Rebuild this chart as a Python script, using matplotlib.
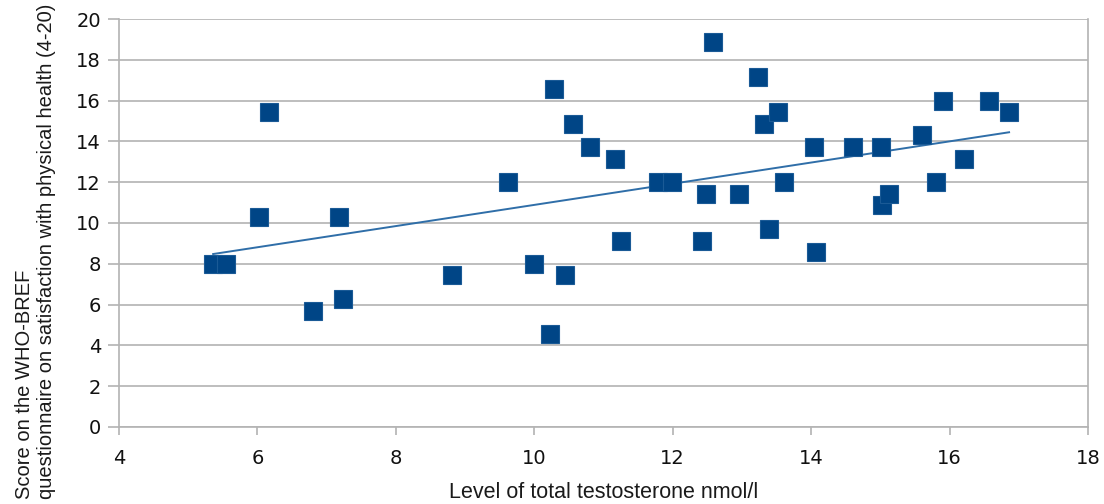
import numpy as np
import matplotlib
matplotlib.use("Agg")
import matplotlib.pyplot as plt

plt.rcParams['font.family'] = ['Liberation Sans', 'DejaVu Sans']

# testosterone level (nmol/l) and WHO-BREF physical health score
testosterone = [5.36, 5.55, 6.02, 6.17, 6.80, 7.18, 7.24, 8.81, 9.62, 9.99,
                10.23, 10.29, 10.45, 10.56, 10.81, 11.17, 11.25, 11.79, 11.99, 12.42,
                12.48, 12.58, 12.96, 13.23, 13.32, 13.52, 13.39, 13.61, 14.04, 14.07,
                14.61, 15.01, 15.03, 15.13, 15.60, 15.81, 15.91, 16.21, 16.57, 16.86]
score = [8.00, 8.00, 10.29, 15.43, 5.71, 10.29, 6.29, 7.43, 12.00, 8.00,
         4.57, 16.57, 7.43, 14.86, 13.71, 13.14, 9.14, 12.00, 12.00, 9.14,
         11.43, 18.86, 11.43, 17.14, 14.86, 15.43, 9.71, 12.00, 13.71, 8.57,
         13.71, 13.71, 10.86, 11.43, 14.29, 12.00, 16.00, 13.14, 16.00, 15.43]

x = np.array(testosterone)
y = np.array(score)
k, b = np.polyfit(x, y, 1)
xl = np.array([x.min(), x.max()])

fig = plt.figure(figsize=(11.04, 5.04), dpi=100)
ax = fig.add_axes([0.1078, 0.1528, 0.8777, 0.8095])

ax.plot(xl, k * xl + b, color='#2f6ea8', lw=1.4, zorder=3)
ax.plot(x, y, 's', color='#004586', markersize=12.5, markeredgecolor='#1a5a96',
        markeredgewidth=0.8, zorder=4, clip_on=False)

ax.set_xlim(4, 18)
ax.set_ylim(0, 20)
ax.set_xticks(range(4, 19, 2))
ax.set_yticks(range(0, 21, 2))
ax.yaxis.grid(True, color='#b3b3b3', lw=1.2)
ax.set_axisbelow(True)
for s in ax.spines.values():
    s.set_color('#b3b3b3')
    s.set_linewidth(1.2)
ax.spines['top'].set_visible(False)
ax.tick_params(colors='#b3b3b3', labelcolor='#111111', labelsize=14, width=1.2)
ax.tick_params(axis='y', length=8, pad=5)
ax.tick_params(axis='x', length=6, pad=10)
for lab in ax.get_xticklabels() + ax.get_yticklabels():
    lab.set_family('DejaVu Sans')

ax.set_xlabel('Level of total testosterone nmol/l', fontsize=15.5, color='#1a1a1a')
ax.xaxis.set_label_coords(0.5, -0.135)
ax.set_ylabel('Score on the WHO-BREF\nquestionnaire on satisfaction with physical health (4-20)',
              fontsize=14.5, color='#1a1a1a', multialignment='left')
ax.yaxis.set_label_coords(-0.065, 0.43)

fig.savefig('out.png', dpi=100)
